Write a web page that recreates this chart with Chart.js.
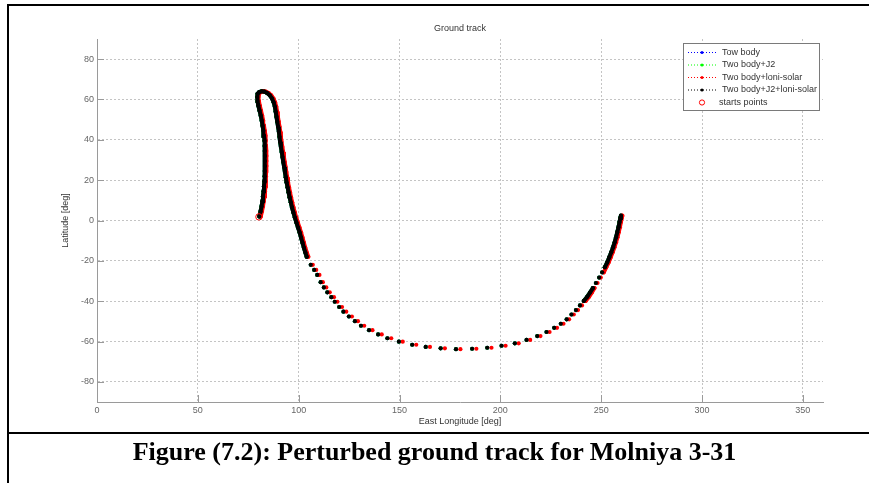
<!DOCTYPE html>
<html>
<head>
<meta charset="utf-8">
<title>Ground track</title>
<script src="https://cdn.jsdelivr.net/npm/chart.js@4.4.1/dist/chart.umd.min.js"></script>
<style>
    html, body { margin: 0; padding: 0; background: #fff; }
    #wrap { position: relative; width: 869px; height: 483px; overflow: hidden; }
    #groundTrack { position: absolute; left: 0; top: 0; }
    .rule { position: absolute; background: #000; }
    #caption {
        position: absolute; left: 0; right: 0; top: 437px;
        text-align: center; color: #000;
        font: bold 26px "Liberation Serif", "Times New Roman", serif;
    }
</style>
</head>
<body>
<div id="wrap">
    <canvas id="groundTrack" width="869" height="483"></canvas>
    <div class="rule" style="left:7px; top:4px; width:862px; height:2px"></div>
    <div class="rule" style="left:7px; top:4px; width:2px; height:479px"></div>
    <div class="rule" style="left:7px; top:432px; width:862px; height:2px"></div>
    <div id="caption">Figure (7.2): Perturbed ground track for Molniya 3-31</div>
</div>

<script>
// ==============================================================================
// 1. DATA (degrees)
// ==============================================================================
const xTicks = [0, 50, 100, 150, 200, 250, 300, 350];
const yTicks = [-80, -60, -40, -20, 0, 20, 40, 60, 80];

// latitude of every sample, shared by all propagations (they overlap in the plot)
const latTrack = [
    2.0, 4.5, 7.0, 9.5, 12.0, 14.5, 17.0, 19.5, 22.0, 24.5, 27.0, 29.5, 32.0, 34.5, 37.0, 39.5,
    42.0, 44.5, 47.0, 49.5, 52.0, 54.5, 57.0, 59.2, 61.2, 62.8, 63.7, 64.1, 63.9, 63.2, 62.1, 60.5,
    58.6, 56.4, 54.0, 51.5, 49.0, 46.5, 44.0, 41.5, 39.0, 36.5, 34.0, 31.5, 29.0, 26.5, 24.0, 21.5,
    19.0, 16.5, 14.0, 11.5, 9.0, 6.5, 4.0, 1.5, -1.0, -3.5, -6.0, -8.5, -11.0, -13.5, -15.8, -18.0,
    -22.0, -24.5, -27.0, -30.6, -33.2, -35.6, -38.0, -40.3, -42.9, -45.2, -47.6, -49.9, -52.2, -54.4,
    -56.5, -58.4, -60.1, -61.6, -62.7, -63.4, -63.8, -63.6, -63.1, -62.1, -60.9, -59.2, -57.3, -55.3,
    -53.2, -51.2, -49.0, -46.6, -44.4, -42.1, -39.9, -37.8, -35.7, -33.5, -31.0, -28.3, -25.7, -23.2,
    -20.8, -18.3, -15.8, -13.3, -10.8, -8.3, -5.8, -3.3, -0.8, 1.2, 2.4
];

// Two body+J2+loni-solar (black) - two body and J2 runs sit underneath it
const lonJ2LoniSolar = [
    80.5, 81.1, 81.6, 82.0, 82.3, 82.6, 82.8, 83.0, 83.1, 83.2, 83.3, 83.3, 83.3, 83.2, 83.1, 83.0,
    82.8, 82.5, 82.1, 81.7, 81.2, 80.6, 80.0, 79.6, 79.4, 79.7, 80.5, 81.7, 83.0, 84.4, 85.7, 86.8,
    87.6, 88.2, 88.6, 89.0, 89.4, 89.8, 90.2, 90.5, 90.8, 91.2, 91.6, 92.0, 92.4, 92.8, 93.2, 93.6,
    94.0, 94.5, 95.0, 95.5, 96.1, 96.7, 97.4, 98.1, 98.9, 99.7, 100.5, 101.2, 101.9, 102.6, 103.3, 104.0,
    106.0, 107.7, 109.2, 110.9, 112.5, 114.2, 116.2, 117.9, 120.1, 122.2, 124.9, 127.9, 130.9, 134.9,
    139.4, 144.0, 149.7, 156.3, 163.0, 170.4, 178.0, 186.0, 193.5, 200.6, 207.2, 213.0, 218.3, 222.9,
    226.7, 230.0, 232.9, 235.3, 237.5, 239.5, 241.4, 243.1, 244.5, 245.9, 247.4, 249.0, 250.5, 251.8,
    253.0, 254.0, 255.0, 255.9, 256.7, 257.4, 258.0, 258.6, 259.1, 259.5, 259.8
];

// Two body+loni-solar (red), drifts a little east of the others
const lonLoniSolar = [
    81.2, 81.8, 82.3, 82.7, 83.0, 83.3, 83.5, 83.7, 83.8, 83.9, 84.0, 84.0, 84.0, 83.9, 83.8, 83.7,
    83.5, 83.2, 82.8, 82.4, 81.9, 81.3, 80.7, 80.3, 80.1, 80.4, 81.2, 82.4, 83.7, 85.1, 86.4, 87.5,
    88.3, 88.9, 89.3, 89.7, 90.1, 90.5, 90.9, 91.2, 91.5, 91.9, 92.3, 92.7, 93.1, 93.5, 93.9, 94.3,
    94.7, 95.2, 95.7, 96.2, 96.8, 97.4, 98.1, 98.8, 99.6, 100.4, 101.2, 101.9, 102.6, 103.3, 104.0, 104.8,
    107.0, 108.7, 110.3, 112.0, 113.7, 115.4, 117.5, 119.2, 121.5, 123.6, 126.4, 129.4, 132.5, 136.6,
    141.2, 145.9, 151.6, 158.3, 165.1, 172.5, 180.2, 188.1, 195.6, 202.6, 209.1, 214.8, 219.9, 224.4,
    228.1, 231.3, 234.1, 236.4, 238.5, 240.5, 242.3, 244.0, 245.4, 246.7, 248.2, 249.8, 251.3, 252.5,
    253.7, 254.7, 255.7, 256.6, 257.4, 258.1, 258.7, 259.3, 259.8, 260.2, 260.5
];

const startLon = [80.3];
const startLat = [1.8];

const seriesNames = ['Tow body', 'Two body+J2', 'Two body+loni-solar', 'Two body+J2+loni-solar'];
const seriesColors = ['#0000ff', '#00ff00', '#ff0000', '#000000'];

// ==============================================================================
// 2. HELPERS
// ==============================================================================
function toPoints(lon, lat) {
    return lon.map((v, i) => ({ x: v, y: lat[i] }));
}

// markers that sit closer than their own size merge into one thick stroke
function closeOnly(color) {
    return ctx => Math.hypot(ctx.p1.x - ctx.p0.x, ctx.p1.y - ctx.p0.y) < 5.6 ? color : 'rgba(0,0,0,0)';
}

function trackSet(idx, lon, order) {
    const c = seriesColors[idx];
    return {
        label: seriesNames[idx],
        data: toPoints(lon, latTrack),
        showLine: true,
        borderColor: c,
        borderWidth: 4,
        borderCapStyle: 'round',
        tension: 0,
        segment: { borderColor: closeOnly(c) },
        pointRadius: 2.1,
        pointBorderWidth: 0,
        pointBackgroundColor: c,
        order: order
    };
}

// axes text, inward ticks and the legend box drawn the MATLAB way
const figureDecor = {
    id: 'figureDecor',
    afterDraw(chart) {
        const { ctx, chartArea: a, scales: { x, y } } = chart;
        ctx.save();

        ctx.strokeStyle = '#9a9a9a';
        ctx.lineWidth = 1;
        ctx.beginPath();
        xTicks.forEach(v => {
            const px = Math.round(x.getPixelForValue(v)) + 0.5;
            ctx.moveTo(px, a.bottom); ctx.lineTo(px, a.bottom - 7);
        });
        yTicks.forEach(v => {
            const py = Math.round(y.getPixelForValue(v)) + 0.5;
            ctx.moveTo(a.left, py); ctx.lineTo(a.left + 7, py);
        });
        ctx.stroke();

        const mid = (a.left + a.right) / 2;
        ctx.fillStyle = '#333';
        ctx.font = '9px "Liberation Sans", Arial, sans-serif';
        ctx.textAlign = 'center';
        ctx.textBaseline = 'middle';
        ctx.fillText('Ground track', mid, 29);
        ctx.fillText('East Longitude [deg]', mid, 422);
        ctx.save();
        ctx.translate(66, (a.top + a.bottom) / 2);
        ctx.rotate(-Math.PI / 2);
        ctx.fillText('Latitude [deg]', 0, 0);
        ctx.restore();

        // legend
        const bx = 683.5, by = 43.5, bw = 136, bh = 67;
        ctx.fillStyle = '#fff';
        ctx.fillRect(bx, by, bw, bh);
        ctx.strokeStyle = '#7a7a7a';
        ctx.strokeRect(bx, by, bw, bh);
        ctx.textAlign = 'left';
        seriesNames.forEach((name, i) => {
            const ry = 52.5 + i * 12.5;
            ctx.strokeStyle = seriesColors[i];
            ctx.setLineDash([1, 2]);
            ctx.beginPath();
            ctx.moveTo(688, ry); ctx.lineTo(718, ry);
            ctx.stroke();
            ctx.setLineDash([]);
            ctx.fillStyle = seriesColors[i];
            ctx.beginPath();
            ctx.arc(702, ry, 1.5, 0, Math.PI * 2);
            ctx.fill();
            ctx.fillStyle = '#333';
            ctx.fillText(name, 722, ry);
        });
        const sy = 52.5 + 4 * 12.5;
        ctx.strokeStyle = '#ff0000';
        ctx.beginPath();
        ctx.arc(702, sy, 2.6, 0, Math.PI * 2);
        ctx.stroke();
        ctx.fillStyle = '#333';
        ctx.fillText('starts points', 719, sy);

        ctx.restore();
    }
};

// ==============================================================================
// 3. CHART
// ==============================================================================
new Chart(document.getElementById('groundTrack'), {
    type: 'scatter',
    data: {
        datasets: [
            trackSet(3, lonJ2LoniSolar, 1),
            trackSet(2, lonLoniSolar, 2),
            trackSet(1, lonJ2LoniSolar, 3),
            trackSet(0, lonJ2LoniSolar, 4),
            {
                label: 'starts points',
                data: toPoints(startLon, startLat),
                pointRadius: 3.2,
                pointBorderWidth: 1,
                pointBorderColor: '#ff0000',
                pointBackgroundColor: 'rgba(0,0,0,0)',
                order: 0
            }
        ]
    },
    options: {
        responsive: false,
        animation: false,
        events: [],
        layout: { padding: { top: 39, right: 46, left: 0, bottom: 0 } },
        plugins: { legend: { display: false }, title: { display: false }, tooltip: { enabled: false } },
        scales: {
            x: {
                type: 'linear', min: 0, max: 360,
                afterBuildTicks: s => { s.ticks = xTicks.map(v => ({ value: v })); },
                afterFit: s => { s.height = 81; },
                grid: { color: '#c4c4c4', drawTicks: false },
                border: { color: '#9a9a9a', dash: [2, 2] },
                ticks: { padding: 3, color: '#666', font: { family: '"Liberation Sans", Arial', size: 9 } }
            },
            y: {
                type: 'linear', min: -90, max: 90,
                afterBuildTicks: s => { s.ticks = yTicks.map(v => ({ value: v })); },
                afterFit: s => { s.width = 97; },
                grid: { color: '#c4c4c4', drawTicks: false },
                border: { color: '#9a9a9a', dash: [2, 2] },
                ticks: { padding: 3, color: '#666', font: { family: '"Liberation Sans", Arial', size: 9 } }
            }
        }
    },
    plugins: [figureDecor]
});
</script>
</body>
</html>
